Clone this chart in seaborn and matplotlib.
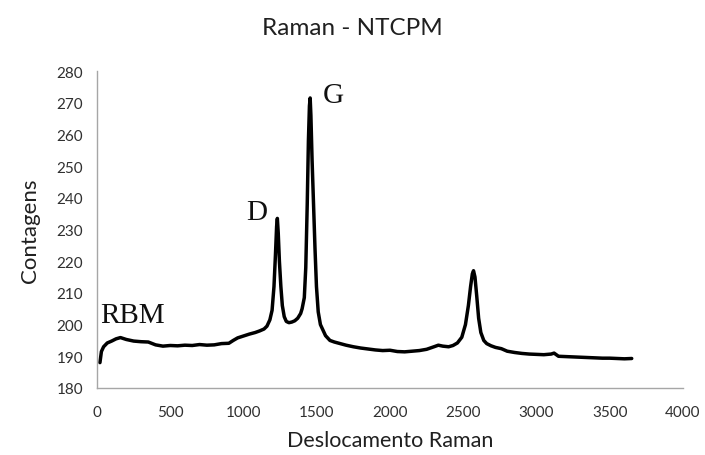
import matplotlib
matplotlib.use("Agg")
import matplotlib.pyplot as plt
import seaborn as sns
import pandas as pd

# Raman shift (x) and counts (y)
shift = [20, 30, 45, 70, 100, 130, 160, 200, 250, 300, 350, 400, 450, 500, 550,
         600, 650, 700, 750, 800, 850, 900, 930, 960, 1000, 1040, 1080, 1110,
         1140, 1160, 1180, 1195, 1208, 1218, 1226, 1231, 1237, 1245, 1255, 1265,
         1278, 1292, 1310, 1330, 1350, 1370, 1390, 1400, 1415, 1425, 1435, 1443,
         1450, 1455, 1460, 1468, 1478, 1488, 1498, 1510, 1525, 1540, 1560, 1590,
         1620, 1660, 1700, 1750, 1800, 1850, 1900, 1950, 2000, 2050, 2100, 2150,
         2200, 2250, 2300, 2330, 2360, 2400, 2430, 2460, 2490, 2515, 2535, 2550,
         2562, 2570, 2580, 2592, 2605, 2620, 2640, 2660, 2690, 2720, 2760, 2800,
         2850, 2900, 2950, 3000, 3050, 3100, 3120, 3150, 3200, 3250, 3300, 3350,
         3400, 3450, 3500, 3550, 3600, 3650]
counts = [188.0, 191.5, 193.0, 194.2, 194.8, 195.5, 195.9, 195.3, 194.8, 194.6,
          194.5, 193.6, 193.2, 193.4, 193.3, 193.5, 193.4, 193.7, 193.5, 193.6,
          194.0, 194.1, 195.0, 195.8, 196.4, 197.0, 197.5, 198.0, 198.6, 199.5,
          201.5, 204.5, 212.0, 222.0, 231.0, 233.5, 229.0, 220.0, 212.0, 206.0,
          202.5, 201.0, 200.6, 200.8, 201.2, 202.0, 203.5, 205.0, 208.5, 218.0,
          238.0, 258.0, 269.0, 271.5, 266.0, 252.0, 238.0, 224.0, 212.0, 204.0,
          200.0, 198.5, 196.5, 195.0, 194.5, 194.0, 193.5, 193.0, 192.6, 192.3,
          192.0, 191.8, 191.9, 191.5, 191.4, 191.6, 191.8, 192.2, 193.0, 193.5,
          193.2, 193.0, 193.4, 194.2, 196.0, 200.0, 206.0, 212.0, 216.0, 217.0,
          215.0, 209.0, 202.0, 197.5, 195.0, 194.0, 193.3, 192.8, 192.4, 191.6,
          191.2, 190.9, 190.7, 190.6, 190.5, 190.7, 191.0, 190.0, 189.9, 189.8,
          189.7, 189.6, 189.5, 189.4, 189.4, 189.3, 189.2, 189.3]

x_ticks = [0, 500, 1000, 1500, 2000, 2500, 3000, 3500, 4000]
y_ticks = [180, 190, 200, 210, 220, 230, 240, 250, 260, 270, 280]

title = "Raman - NTCPM"
x_label = "Deslocamento Raman"
y_label = "Contagens"

sns.set_style("white")
plt.rcParams["font.family"] = ["Lato", "DejaVu Sans"]

df = pd.DataFrame({"shift": shift, "counts": counts})

fig = plt.figure(figsize=(7.05, 4.56), dpi=100)
ax = fig.add_axes([0.1376, 0.147, 0.8312, 0.695])

sns.lineplot(data=df, x="shift", y="counts", color="black", linewidth=2.5,
             sort=False, ax=ax)

ax.set_xlim(0, 4000)
ax.set_ylim(180, 280)
ax.set_xticks(x_ticks)
ax.set_yticks(y_ticks)
ax.tick_params(length=0, labelsize=11, colors="#303030", pad=10)
ax.tick_params(axis="x", pad=12)

for s in ["top", "right"]:
    ax.spines[s].set_visible(False)
for s in ["left", "bottom"]:
    ax.spines[s].set_color("#a6a6a6")
    ax.spines[s].set_linewidth(1.0)

ax.set_xlabel(x_label, fontsize=15.5, color="#202020", labelpad=8)
ax.set_ylabel(y_label, fontsize=16, color="#202020", labelpad=12)
fig.suptitle(title, fontsize=17.5, color="#202020", y=0.96)

serif = ["Liberation Serif", "DejaVu Serif"]
ax.text(20, 198.8, "RBM", family=serif, fontsize=21, fontweight="normal",
        color="#101010", ha="left", va="bottom")
ax.text(1090, 235.5, "D", family=serif, fontsize=21, fontweight="normal",
        color="#101010", ha="center", va="center")
ax.text(1610, 272.5, "G", family=serif, fontsize=21, fontweight="normal",
        color="#101010", ha="center", va="center")

fig.savefig("out.png", dpi=100)
